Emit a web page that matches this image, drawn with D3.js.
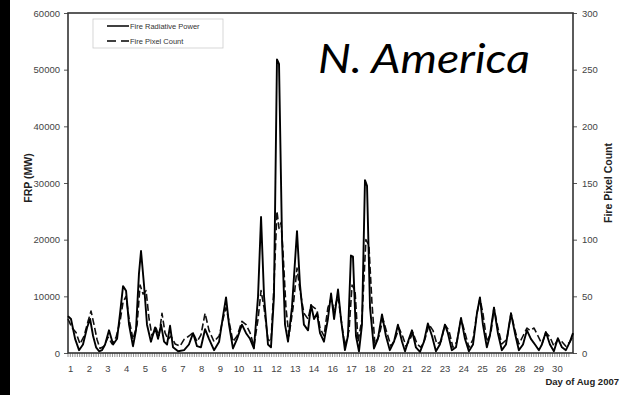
<!DOCTYPE html>
<html>
<head>
<meta charset="utf-8">
<script src="https://cdn.jsdelivr.net/npm/d3@7"></script>
<style>
  body { margin: 0; background: #fff; }
  svg { display: block; }
  .tick text { font-family: "Liberation Sans", Arial, sans-serif; fill: #444; }
</style>
</head>
<body>
<svg id="chart" width="635" height="395"></svg>
<script>
// day labels along the x axis (the source skips 15, 19 and 27)
let dayLabels = ['1','2','3','4','5','6','7','8','9','10','11','12','13','14','16','17','18','20','21','22','23','24','25','26','28','29','30'];

// fire radiative power, MW, at positions measured in label slots
let frpSlot = [-0.11,0.05,0.27,0.48,0.69,0.91,1.07,1.23,1.39,1.55,1.71,1.87,2.08,2.30,2.51,2.67,2.83,2.99,3.15,3.36,3.52,3.68,3.79,3.95,4.11,4.32,4.54,4.70,4.86,5.02,5.18,5.34,5.50,5.77,6.09,6.35,6.57,6.78,6.99,7.21,7.42,7.69,7.96,8.17,8.33,8.49,8.70,8.92,9.18,9.40,9.61,9.82,10.04,10.20,10.36,10.57,10.73,10.89,11.05,11.16,11.32,11.48,11.64,11.85,12.12,12.28,12.49,12.71,12.87,13.03,13.19,13.35,13.56,13.77,13.94,14.10,14.31,14.47,14.68,14.84,15.00,15.11,15.27,15.43,15.59,15.75,15.86,16.02,16.23,16.44,16.66,16.87,17.08,17.30,17.51,17.73,17.89,18.10,18.26,18.47,18.69,18.90,19.11,19.33,19.54,19.75,20.02,20.18,20.39,20.61,20.88,21.09,21.30,21.52,21.73,21.89,22.05,22.26,22.42,22.64,22.85,23.06,23.28,23.55,23.76,23.97,24.19,24.40,24.61,24.83,25.04,25.20,25.41,25.63,25.84,26.05,26.27,26.48,26.70,26.86];
let frpMW = [6500,6000,2500,500,1500,4500,6000,3000,1000,300,500,1500,4000,1500,2500,7000,11800,11000,5000,1200,4000,14000,18000,12000,5000,2000,4500,2500,5000,2000,1500,4800,1000,300,500,1500,3500,1200,1000,4200,2500,500,2000,6500,9800,5000,800,2500,5000,3500,2500,800,10000,24000,10000,1500,1000,10000,51800,51000,20000,5000,2000,8000,21500,12000,5000,4000,8500,6000,7000,3500,2000,6000,10500,6000,11200,6000,500,3000,17200,17000,3000,300,5000,30500,29500,8000,800,2500,6800,3000,500,2000,5000,2000,300,2500,4000,1000,200,2000,5200,3000,300,1500,5000,3500,500,1000,6200,2500,300,1500,7000,9800,5000,1000,3000,8000,3500,500,1500,7000,3500,500,1500,4000,2500,1500,500,1500,3700,1500,300,2600,1000,500,2000,3500];

// fire pixel count at positions measured in label slots
let countSlot = [-0.11,0.11,0.32,0.53,0.75,0.96,1.12,1.28,1.44,1.60,1.82,2.03,2.24,2.46,2.67,2.83,2.99,3.15,3.36,3.58,3.74,3.90,4.06,4.22,4.38,4.59,4.75,4.91,5.07,5.23,5.39,5.61,5.87,6.09,6.35,6.57,6.78,6.99,7.21,7.42,7.69,7.96,8.17,8.33,8.49,8.70,8.92,9.18,9.40,9.61,9.82,10.04,10.20,10.36,10.57,10.73,10.89,11.05,11.16,11.27,11.37,11.53,11.69,11.91,12.12,12.28,12.49,12.71,12.87,13.03,13.19,13.35,13.56,13.77,13.94,14.10,14.31,14.47,14.68,14.90,15.06,15.22,15.38,15.59,15.80,15.96,16.12,16.28,16.50,16.71,16.92,17.14,17.35,17.57,17.78,17.94,18.15,18.31,18.53,18.74,18.95,19.17,19.38,19.59,19.81,20.02,20.23,20.45,20.66,20.88,21.09,21.30,21.52,21.73,21.89,22.05,22.26,22.48,22.64,22.85,23.06,23.33,23.55,23.76,23.97,24.19,24.40,24.56,24.78,24.99,25.20,25.41,25.63,25.84,26.05,26.27,26.48,26.70,26.86];
let pixelCount = [30,22,18,8,15,28,37,25,12,4,6,14,8,14,28,45,50,30,12,25,60,52,55,30,15,22,15,35,18,12,15,8,6,12,15,18,10,16,35,20,10,15,30,40,28,10,15,28,25,18,6,30,55,40,12,10,60,125,110,115,90,40,15,40,75,55,35,30,42,40,38,22,15,40,48,38,50,30,6,20,60,55,10,30,100,95,45,8,15,30,18,6,12,22,14,6,12,18,8,5,12,25,20,8,10,25,20,5,10,30,18,5,12,35,48,35,10,18,40,22,8,12,35,20,8,15,22,20,22,15,8,18,14,6,12,10,6,10,15];

let frpTicks = [0, 10000, 20000, 30000, 40000, 50000, 60000];
let countTicks = [0, 50, 100, 150, 200, 250, 300];

let svg = d3.select('#chart');
let plotLeft = 68, plotRight = 573, plotTop = 13, plotBottom = 353;

let x = d3.scaleLinear().domain([-0.11, 26.86]).range([plotLeft, plotRight]);
let yFrp = d3.scaleLinear().domain([0, 60000]).range([plotBottom, plotTop]);
let yCount = d3.scaleLinear().domain([0, 300]).range([plotBottom, plotTop]);

// black strip on the left edge of the slide
svg.append('rect').attr('x', 0).attr('y', 0).attr('width', 10).attr('height', 395).attr('fill', '#000');

// dense minor ticks along the day axis
let minor = d3.range(0, 8 * 26.86).map(i => -0.11 + i / 8).filter(v => v <= 26.86);
svg.append('g').selectAll('line').data(minor).join('line')
  .attr('x1', d => x(d)).attr('x2', d => x(d))
  .attr('y1', plotBottom).attr('y2', plotBottom + 4)
  .attr('stroke', '#666').attr('stroke-width', 0.7);

let xAxis = svg.append('g').attr('transform', `translate(0,${plotBottom})`)
  .call(d3.axisBottom(x).tickValues(d3.range(dayLabels.length)).tickFormat(i => dayLabels[i]).tickSize(0).tickPadding(12));
xAxis.select('.domain').remove();
xAxis.selectAll('text').attr('font-size', 9.5);

let yAxisL = svg.append('g').attr('transform', `translate(${plotLeft},0)`)
  .call(d3.axisLeft(yFrp).tickValues(frpTicks).tickFormat(d3.format('d')).tickSize(4).tickPadding(4));
yAxisL.select('.domain').remove();
yAxisL.selectAll('line').attr('stroke', '#555');
yAxisL.selectAll('text').attr('font-size', 9.5);

let yAxisR = svg.append('g').attr('transform', `translate(${plotRight},0)`)
  .call(d3.axisRight(yCount).tickValues(countTicks).tickSize(4).tickPadding(5));
yAxisR.select('.domain').remove();
yAxisR.selectAll('line').attr('stroke', '#555');
yAxisR.selectAll('text').attr('font-size', 9.5);

// frame
svg.append('rect').attr('x', plotLeft).attr('y', plotTop).attr('width', plotRight - plotLeft).attr('height', plotBottom - plotTop)
  .attr('fill', 'none').attr('stroke', '#333').attr('stroke-width', 1.6);

let frpLine = d3.line().x((d, i) => x(frpSlot[i])).y(d => yFrp(d));
let countLine = d3.line().x((d, i) => x(countSlot[i])).y(d => yCount(d));

svg.append('path').datum(pixelCount).attr('d', countLine)
  .attr('fill', 'none').attr('stroke', '#111').attr('stroke-width', 1.6)
  .attr('stroke-dasharray', '7,3').attr('stroke-linejoin', 'round');
svg.append('path').datum(frpMW).attr('d', frpLine)
  .attr('fill', 'none').attr('stroke', '#000').attr('stroke-width', 1.9).attr('stroke-linejoin', 'round');

// legend
let legend = svg.append('g');
legend.append('rect').attr('x', 93).attr('y', 19).attr('width', 130).attr('height', 29)
  .attr('fill', '#fff').attr('stroke', '#ccc').attr('stroke-width', 0.8);
legend.append('line').attr('x1', 107).attr('x2', 129).attr('y1', 26).attr('y2', 26).attr('stroke', '#000').attr('stroke-width', 1.5);
legend.append('line').attr('x1', 107).attr('x2', 129).attr('y1', 41).attr('y2', 41).attr('stroke', '#000').attr('stroke-width', 1.5).attr('stroke-dasharray', '9,5');
legend.append('text').attr('x', 130).attr('y', 28.5).text('Fire Radiative Power')
  .attr('font-family', 'Liberation Sans, Arial, sans-serif').attr('font-size', 7.5).attr('fill', '#333');
legend.append('text').attr('x', 130).attr('y', 43.5).text('Fire Pixel Count')
  .attr('font-family', 'Liberation Sans, Arial, sans-serif').attr('font-size', 7.5).attr('fill', '#333');

// title inside the plot
svg.append('text').attr('x', 318).attr('y', 73).text('N. America')
  .attr('font-family', 'Lato, "Open Sans", sans-serif').attr('font-style', 'italic')
  .attr('font-size', 41).attr('fill', '#000')
  .attr('textLength', 212).attr('lengthAdjust', 'spacingAndGlyphs');

// axis titles
svg.append('text').attr('transform', 'translate(32,178) rotate(-90)').attr('text-anchor', 'middle')
  .text('FRP (MW)').attr('font-family', 'Liberation Sans, Arial, sans-serif').attr('font-weight', 'bold')
  .attr('font-size', 10.5).attr('fill', '#222');
svg.append('text').attr('transform', 'translate(612,183) rotate(-90)').attr('text-anchor', 'middle')
  .text('Fire Pixel Count').attr('font-family', 'Liberation Sans, Arial, sans-serif').attr('font-weight', 'bold')
  .attr('font-size', 10.5).attr('fill', '#222');
svg.append('text').attr('x', 619).attr('y', 385).attr('text-anchor', 'end')
  .text('Day of Aug 2007').attr('font-family', 'Liberation Sans, Arial, sans-serif').attr('font-weight', 'bold')
  .attr('font-size', 9.5).attr('fill', '#222');
</script>
</body>
</html>
